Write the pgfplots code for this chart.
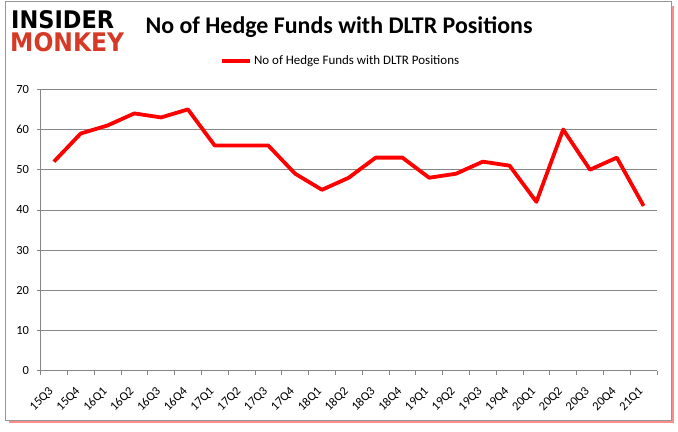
\documentclass[border=0pt]{standalone}
\usepackage{pgfplots}
\pgfplotsset{compat=1.18}
\usepackage{fontspec}
\usepackage{graphicx}
\setmainfont{Carlito}
\newfontfamily\logofont{DejaVu Sans}
\definecolor{linered}{RGB}{255,0,0}
\definecolor{gridgray}{RGB}{134,134,134}
\definecolor{logored}{RGB}{214,58,38}
\definecolor{framegray}{RGB}{150,150,150}
\pgfplotsset{
  legend image code/.code={\draw[#1] (0bp,0bp) -- (28bp,0bp);}
}
\begin{document}
\begin{tikzpicture}[x=1bp,y=1bp]
  % page and frame
  \fill[white] (0,0) rectangle (678,431);
  \draw[red!45, line width=3bp] (9,9.5) -- (672.5,9.5) -- (672.5,425);
  \draw[framegray, line width=0.8bp] (5,11) rectangle (671,430);
  % logo
  \node[anchor=north west, inner sep=0] at (11,421)
    {\resizebox{103bp}{18bp}{\logofont\bfseries INSIDER}};
  \node[anchor=north west, inner sep=0, text=logored] at (10,399)
    {\resizebox{114bp}{19bp}{\logofont\bfseries MONKEY}};
  % title
  \node at (339,404) {\fontsize{24}{28}\selectfont\bfseries No of Hedge Funds with DLTR Positions};
  \begin{axis}[
      at={(40.5bp,60.3bp)}, anchor=south west,
      scale only axis,
      width=616.5bp, height=281.4bp,
      xmin=-0.5, xmax=22.5,
      ymin=0, ymax=70,
      ytick={0,10,...,70},
      xtick={-0.5,0.5,...,22.5},
      x tick label as interval,
      xticklabels={15Q3,15Q4,16Q1,16Q2,16Q3,16Q4,17Q1,17Q2,17Q3,17Q4,18Q1,18Q2,18Q3,18Q4,19Q1,19Q2,19Q3,19Q4,20Q1,20Q2,20Q3,20Q4,21Q1},
      xticklabel style={xshift=-6bp, yshift=-10bp, rotate=45, anchor=north east, font=\fontsize{12.5}{14}\selectfont, inner sep=1bp},
      yticklabel style={font=\fontsize{12.5}{14}\selectfont, xshift=-4bp},
      /pgf/number format/assume math mode=true,
      axis lines*=left,
      axis line style={gridgray, line width=0.8bp},
      tick align=outside,
      major tick length=4bp,
      tick style={gridgray, line width=0.8bp},
      ymajorgrids,
      grid style={gridgray, line width=0.8bp},
      legend style={at={(0.487,1.1)}, anchor=center, draw=none, fill=none,
        font=\fontsize{13}{15}\selectfont},
      legend cell align=left,
    ]
    \addplot[linered, line width=3.8bp, line join=round] coordinates {
      (0,52) (1,59) (2,61) (3,64) (4,63) (5,65) (6,56) (7,56) (8,56)
      (9,49) (10,45) (11,48) (12,53) (13,53) (14,48) (15,49) (16,52)
      (17,51) (18,42) (19,60) (20,50) (21,53) (22,41)
    };
    \addlegendentry{No of Hedge Funds with DLTR Positions}
  \end{axis}
\end{tikzpicture}
\end{document}
